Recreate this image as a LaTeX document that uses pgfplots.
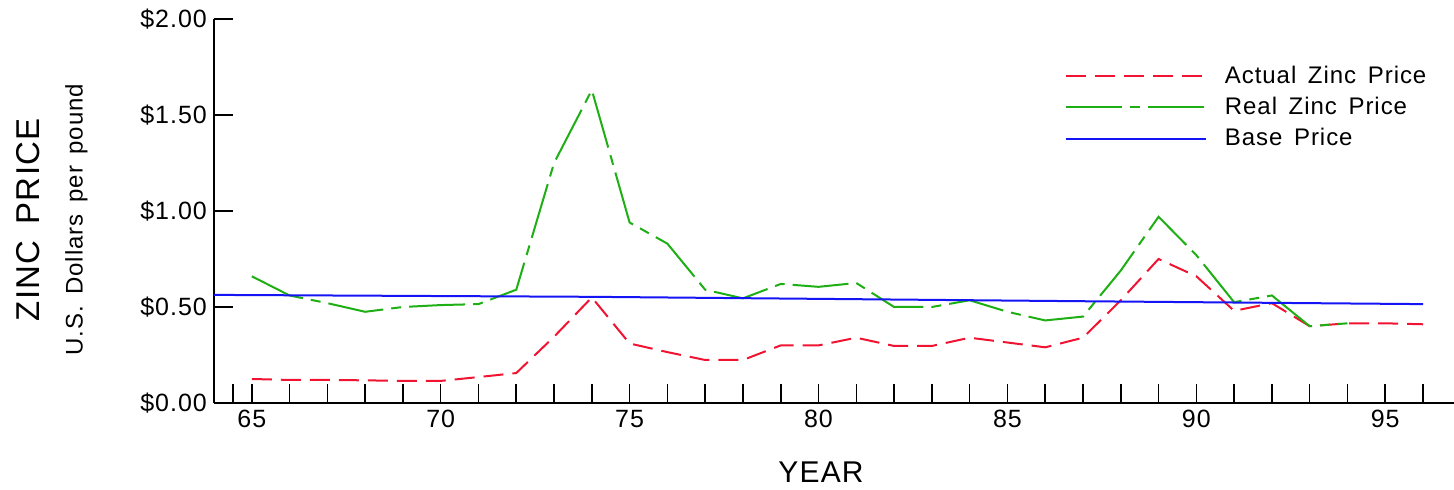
\documentclass[border=0pt]{standalone}
\usepackage{fontspec}
\setmainfont{Liberation Sans}[LetterSpace=4]
\usepackage{pgfplots}
\pgfplotsset{compat=1.18}
\definecolor{zred}{RGB}{240,20,50}
\definecolor{zgreen}{RGB}{30,175,20}
\definecolor{zblue}{RGB}{20,20,245}
\begin{document}
\begin{tikzpicture}
\begin{axis}[name=ax, scale only axis, width=620pt, height=192pt,
 xmin=64, xmax=96.82, ymin=0, ymax=2,
 axis lines=left, axis line style={-, line width=0.9pt},
 xtick={65,70,...,95}, xticklabels={65,70,75,80,85,90,95},
 minor xtick={64.5,66,67,68,69,71,72,73,74,76,77,78,79,81,82,83,84,86,87,88,89,91,92,93,94,96},
 ytick={0,0.5,1,1.5,2}, yticklabels={\$0.00,\$0.50,\$1.00,\$1.50,\$2.00},
 tick align=inside, major tick length=9.5pt, minor tick length=9.5pt,
 tick style={black, line width=0.8pt},
 ticklabel style={font=\fontsize{12.5}{14}\selectfont},
 clip=false,
 legend style={at={(axis description cs:0.681,0.90)}, anchor=north west, draw=none, fill=none,
   font=\fontsize{12}{14}\selectfont, row sep=1.5pt,
   /tikz/every odd column/.append style={column sep=7pt}},
 legend cell align=left,
 legend image code/.code={\draw[#1] (0pt,0pt) -- (70pt,0pt);},
]
\addplot[zred, line width=1pt, dash pattern=on 10pt off 4.5pt] coordinates {
(65,0.125)(66,0.12)(67,0.12)(68,0.118)(69,0.115)(70,0.115)(71,0.135)(72,0.156)(73,0.345)(74,0.55)(75,0.31)(76,0.265)(77,0.224)(78,0.224)(79,0.30)(80,0.30)(81,0.34)(82,0.297)(83,0.297)(84,0.34)(85,0.315)(86,0.29)(87,0.34)(88,0.535)(89,0.75)(90,0.66)(91,0.48)(92,0.52)(93,0.40)(94,0.415)(95,0.415)(96,0.41)};
\addlegendentry{Actual\, Zinc\, Price}
\addplot[zgreen, line width=1pt, dash pattern=on 28pt off 4pt on 5pt off 4pt] coordinates {
(65,0.66)(66,0.56)(67,0.52)(68,0.475)(69,0.50)(70,0.51)(71,0.515)(72,0.59)(73,1.25)(74,1.63)(75,0.94)(76,0.83)(77,0.59)(78,0.545)(79,0.62)(80,0.605)(81,0.625)(82,0.50)(83,0.50)(84,0.535)(85,0.475)(86,0.43)(87,0.45)(88,0.69)(89,0.97)(90,0.77)(91,0.525)(92,0.56)(93,0.40)(94,0.415)};
\addlegendentry{Real\, Zinc\, Price}
\addplot[zblue, line width=1pt] coordinates {(64,0.563)(74,0.553)(87,0.53)(96,0.515)};
\addlegendentry{Base\, Price}
\end{axis}
\node[rotate=90, font=\fontsize{16.5}{20}\selectfont] at ([shift={(-92.75pt,91.6pt)}]ax.south west) {ZINC\, PRICE};
\node[rotate=90, font=\fontsize{12}{15}\selectfont] at ([shift={(-68.75pt,91.6pt)}]ax.south west) {U.S.\, Dollars\, per\, pound};
\node[font=\fontsize{15}{18}\selectfont] at ([shift={(303.5pt,-34.5pt)}]ax.south west) {YEAR};
\pgfresetboundingbox
\path ([shift={(-107pt,-43.5pt)}]ax.south west) rectangle ++(727pt,245pt);
\end{tikzpicture}
\end{document}
